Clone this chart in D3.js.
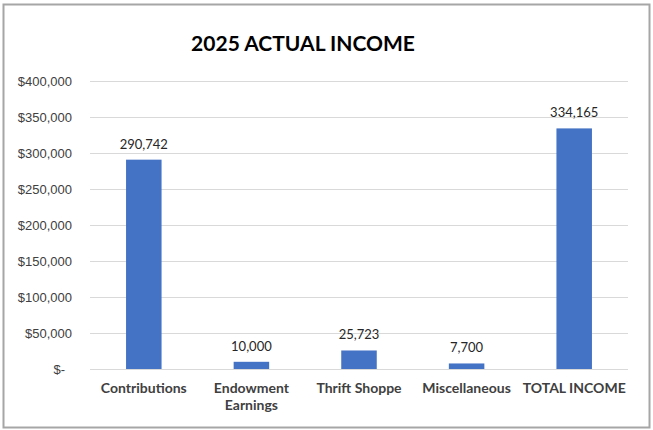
<!DOCTYPE html>
<html><head><meta charset="utf-8">
<script src="https://cdn.jsdelivr.net/npm/d3@7"></script>
<style>body{margin:0;background:#fff;}svg{display:block;font-family:Lato,"Open Sans",sans-serif;}</style>
</head><body>
<script>
const categories = [["Contributions"],["Endowment","Earnings"],["Thrift Shoppe"],["Miscellaneous"],["TOTAL INCOME"]];
const values = [290742, 10000, 25723, 7700, 334165];
const yTicks = [0,50000,100000,150000,200000,250000,300000,350000,400000];
const title = "2025 ACTUAL INCOME";

const W=653,H=430;
const svg=d3.select("body").append("svg").attr("width",W).attr("height",H);
svg.append("rect").attr("x",3.5).attr("y",4.5).attr("width",646).attr("height",423).attr("fill","#fff").attr("stroke","#a6a6a6").attr("stroke-width",2);

const x=d3.scaleBand().domain(d3.range(categories.length)).range([90,628]).paddingInner(0.67).paddingOuter(0.335);
const y=d3.scaleLinear().domain([0,400000]).range([369,81]);

const fmt=d3.format(",");
const gy=svg.append("g").attr("transform","translate(90,0)")
  .call(d3.axisLeft(y).tickValues(yTicks).tickSize(-538).tickPadding(18)
    .tickFormat(d=>d===0?"$-":"$"+fmt(d)));
gy.select(".domain").remove();
gy.selectAll("line").attr("stroke","#d9d9d9");
gy.selectAll("text").attr("font-size",13).attr("fill","#404040");
gy.selectAll(".tick").filter(d=>d===0).select("text").attr("dx",-7);

svg.selectAll("rect.bar").data(values).enter().append("rect").attr("class","bar")
  .attr("x",(d,i)=>x(i)).attr("width",x.bandwidth())
  .attr("y",d=>y(d)).attr("height",d=>y(0)-y(d)).attr("fill","#4472C4");

svg.selectAll("text.val").data(values).enter().append("text").attr("class","val")
  .attr("x",(d,i)=>x(i)+x.bandwidth()/2).attr("y",d=>y(d)-11)
  .attr("text-anchor","middle").attr("font-size",13).attr("fill","#262626").text(d=>fmt(d));

const gx=svg.append("g");
categories.forEach((lines,i)=>{
  const t=gx.append("text").attr("x",x(i)+x.bandwidth()/2).attr("y",393)
    .attr("text-anchor","middle").attr("font-size",14).attr("font-weight","bold").attr("fill","#404040");
  lines.forEach((l,j)=>t.append("tspan").attr("x",x(i)+x.bandwidth()/2).attr("dy",j?17:0).text(l));
});

svg.append("text").attr("x",303).attr("y",51).attr("text-anchor","middle")
  .attr("font-size",21).attr("font-weight","bold").attr("fill","#000").text(title);
</script>
</body></html>
